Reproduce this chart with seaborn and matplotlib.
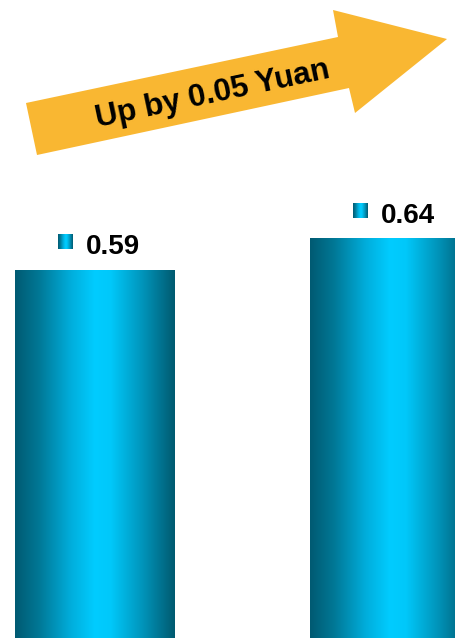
import numpy as np
import pandas as pd
import matplotlib
matplotlib.use("Agg")
import matplotlib.pyplot as plt
from matplotlib.colors import LinearSegmentedColormap
from matplotlib.patches import Polygon
import seaborn as sns

# Earnings per share for the two periods (Yuan)
periods = ["Previous", "Current"]
eps = [0.59, 0.64]
change_label = "Up by 0.05 Yuan"

sns.set_theme(style="white")
plt.rcParams["font.family"] = ["Liberation Sans", "DejaVu Sans"]

W, H, DPI = 456, 638, 100
fig = plt.figure(figsize=(W / DPI, H / DPI), dpi=DPI)
ax = fig.add_axes([0, 0, 1, 1])

df = pd.DataFrame({"period": periods, "eps": eps})
sns.barplot(data=df, x="period", y="eps", width=0.539, color="#00ccff", ax=ax)

XLIM = (-0.320, 1.2254)
YLIM = (0, 1.0233)
ax.set_xlim(*XLIM)
ax.set_ylim(*YLIM)
ax.set_axis_off()

# Metallic horizontal gradient: dark teal edges, bright cyan middle
metal = LinearSegmentedColormap.from_list(
    "metal",
    [(0.00, "#005a72"), (0.15, "#007896"), (0.35, "#00aedc"),
     (0.50, "#00ccff"), (0.60, "#00c8fa"), (0.80, "#0094ba"),
     (1.00, "#005a70")],
)
grad = np.linspace(0, 1, 256).reshape(1, -1)

bars = list(ax.patches)
for p in bars:
    x0, y0, w, h = p.get_x(), p.get_y(), p.get_width(), p.get_height()
    ax.imshow(grad, extent=[x0, x0 + w, y0, y0 + h], aspect="auto",
              cmap=metal, zorder=2, interpolation="bilinear")
    p.set_visible(False)

ax.set_xlim(*XLIM)
ax.set_ylim(*YLIM)
fig.canvas.draw()

# Value labels with a small gradient marker in front of each
to_disp = ax.transData
to_data = ax.transData.inverted()
for p, v in zip(bars, eps):
    cx = p.get_x() + p.get_width() / 2
    dx, dy = to_disp.transform((cx, v))
    (ix0, iy0) = to_data.transform((dx - 36, dy + 21))
    (ix1, iy1) = to_data.transform((dx - 21, dy + 36))
    ax.imshow(grad, extent=[ix0, ix1, iy0, iy1], aspect="auto",
              cmap=metal, zorder=3, interpolation="bilinear")
    ax.annotate(f"{v:.2f}", xy=(cx, v), xytext=(-9, 16),
                textcoords="offset pixels", ha="left", va="baseline",
                fontsize=20, fontweight="bold", color="black", zorder=4)

ax.set_xlim(*XLIM)
ax.set_ylim(*YLIM)

# Arrow banner drawn on a pixel-based overlay
over = fig.add_axes([0, 0, 1, 1], facecolor="none")
over.set_xlim(0, W)
over.set_ylim(H, 0)
over.set_axis_off()
arrow_pts = [(26, 103), (338, 37), (333, 10), (447, 39),
             (355, 113), (349, 88), (37, 155)]
over.add_patch(Polygon(arrow_pts, closed=True, facecolor="#f9b732",
                       edgecolor="none"))
over.text(214, 102.5, change_label, rotation=12, rotation_mode="anchor",
          ha="center", va="baseline", fontsize=22.5, fontweight="bold",
          color="black")

fig.savefig("out.png", dpi=DPI)
